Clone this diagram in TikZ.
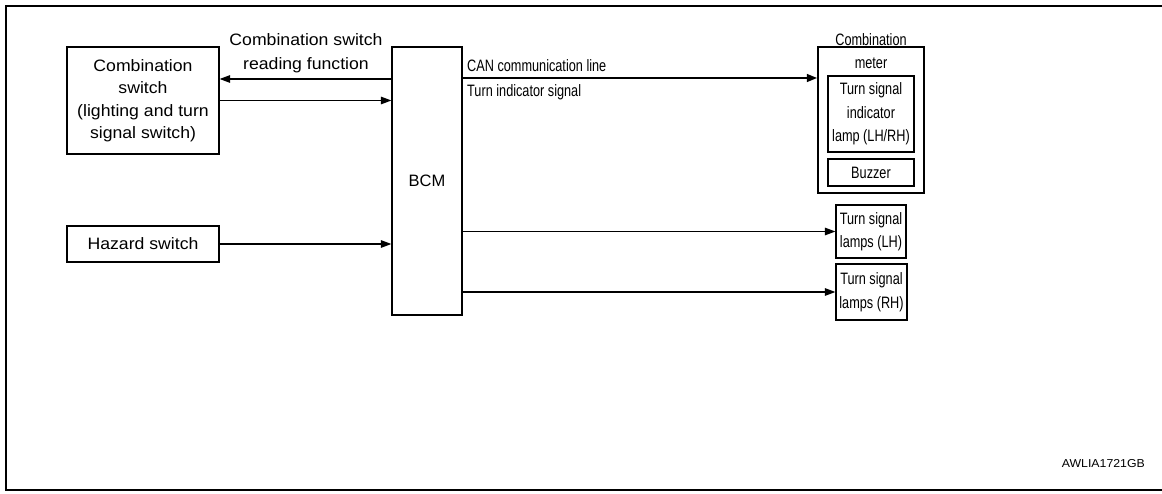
\documentclass[tikz,border=0pt]{standalone}
\usepackage{fontspec}
\setmainfont{Liberation Sans}
\newfontfamily\narrowfont{Liberation Sans}[FakeStretch=0.77]
\newfontfamily\widefont{Liberation Sans}[FakeStretch=1.07]
\usepackage{tikz}
\usetikzlibrary{arrows.meta, positioning}

\begin{document}
\begin{tikzpicture}[
  x=1pt, y=-1pt,
  every node/.style={inner sep=0pt, align=center},
  box/.style={draw, line width=1.2pt, font=\widefont\fontsize{16.5}{22.5}\selectfont},
  rbox/.style={draw, line width=1.2pt, font=\narrowfont\fontsize{16.5}{23.5}\selectfont},
  txt/.style={font=\widefont\fontsize{16.5}{24}\selectfont},
  rtxt/.style={font=\narrowfont\fontsize{16.5}{23}\selectfont},
  arrow/.style={-{Triangle[length=10.5pt,width=7.5pt]}, line width=1.3pt}
]
\useasboundingbox (0,0) rectangle (1162,494);
\draw[line width=2.5pt] (1162,6) -- (6,6) -- (6,490) -- (1162,490);

% left side
\node[box, minimum width=152pt, minimum height=107pt] (comb) at (143,100.5)
  {Combination\\switch\\(lighting and turn\\signal switch)};
\node[box, minimum width=152pt, minimum height=36pt] (hazard) at (143,244) {Hazard switch};
\node[draw, line width=1.2pt, minimum width=70pt, minimum height=268pt,
  font=\fontsize{16.5}{20}\selectfont] (bcm) at (427,181) {BCM};

% right side
\node[draw, line width=1.2pt, minimum width=106pt, minimum height=146pt] (meter) at (871,120) {};
\node[rtxt] (metertitle) at (871,51.5) {Combination\\meter};
\node[rbox, minimum width=86pt, minimum height=76pt] (indlamp) at (871,114)
  {Turn signal\\indicator\\lamp (LH/RH)};
\node[rbox, minimum width=86pt, minimum height=27pt] (buzzer) at (871,172.5) {Buzzer};
\node[rbox, minimum width=70pt, minimum height=53pt] (lamplh) at (871,231.5) {Turn signal\\lamps (LH)};
\node[rbox, minimum width=71pt, minimum height=56pt] (lamprh) at (871.5,292) {Turn signal\\lamps (RH)};

% connectors
\draw[arrow] (bcm.west |- 0,79) -- (comb.east |- 0,79);
\draw[arrow] (comb.east) -- (comb.east -| bcm.west);
\draw[arrow] (hazard.east) -- (hazard.east -| bcm.west);
\draw[arrow, line width=2.5pt] (bcm.east |- 0,78) -- (meter.west |- 0,78);
\draw[arrow] (bcm.east |- lamplh) -- (lamplh.west);
\draw[arrow] (bcm.east |- lamprh) -- (lamprh.west);

% labels
\node[txt] (readlbl) at (306,53) {Combination switch\\reading function};
\node[rtxt, anchor=west] (canlbl) at (467,66) {CAN communication line};
\node[rtxt, anchor=west] (turnlbl) at (467,92) {Turn indicator signal};
\node[font=\widefont\fontsize{11.5}{14}\selectfont, anchor=east] (code) at (1145,464) {AWLIA1721GB};
\end{tikzpicture}
\end{document}
